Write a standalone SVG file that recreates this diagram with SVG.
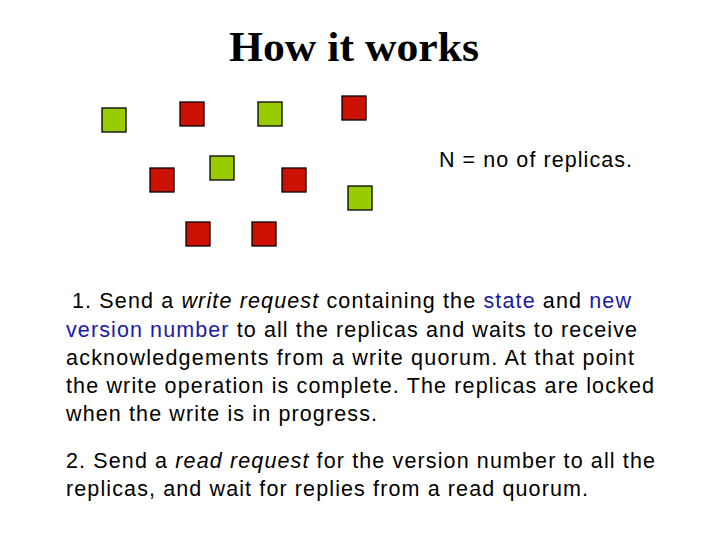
<svg xmlns="http://www.w3.org/2000/svg" width="720" height="540" viewBox="0 0 720 540">
<style>
.g{fill:#99cc00;stroke:#000;stroke-width:1.3}
.r{fill:#cc1100;stroke:#000;stroke-width:1.3}
.t{font-family:"Liberation Sans",Arial,sans-serif;font-size:21.5px;fill:#000}
.b{fill:#1a1aa6}
</style>
<rect width="720" height="540" fill="#fff"/>
<text x="354" y="61" text-anchor="middle" font-family="Liberation Serif,serif" font-weight="bold" font-size="43" textLength="250" lengthAdjust="spacingAndGlyphs">How it works</text>
<g id="nodes">
<rect id="n1" class="g" x="102" y="108" width="24" height="24"/>
<rect id="n2" class="r" x="180" y="102" width="24" height="24"/>
<rect id="n3" class="g" x="258" y="102" width="24" height="24"/>
<rect id="n4" class="r" x="342" y="96" width="24" height="24"/>
<rect id="n5" class="r" x="150" y="168" width="24" height="24"/>
<rect id="n6" class="g" x="210" y="156" width="24" height="24"/>
<rect id="n7" class="r" x="282" y="168" width="24" height="24"/>
<rect id="n8" class="g" x="348" y="186" width="24" height="24"/>
<rect id="n9" class="r" x="186" y="222" width="24" height="24"/>
<rect id="n10" class="r" x="252" y="222" width="24" height="24"/>
</g>
<g id="connectors"/>
<text class="t" x="439" y="167" textLength="193" lengthAdjust="spacing">N = no of replicas.</text>
<text class="t" x="72" y="308" textLength="559" lengthAdjust="spacing">1. Send a <tspan font-style="italic">write request</tspan> containing the <tspan class="b">state</tspan> and <tspan class="b">new</tspan></text>
<text class="t" x="66" y="337" textLength="571" lengthAdjust="spacing"><tspan class="b">version number</tspan> to all the replicas and waits to receive</text>
<text class="t" x="66" y="365" textLength="568" lengthAdjust="spacing">acknowledgements from a write quorum. At that point</text>
<text class="t" x="66" y="393" textLength="588" lengthAdjust="spacing">the write operation is complete. The replicas are locked</text>
<text class="t" x="66" y="421" textLength="311" lengthAdjust="spacing">when the write is in progress.</text>
<text class="t" x="66" y="468" textLength="589" lengthAdjust="spacing">2. Send a <tspan font-style="italic">read request</tspan> for the version number to all the</text>
<text class="t" x="66" y="496" textLength="522" lengthAdjust="spacing">replicas, and wait for replies from a read quorum.</text>
</svg>
